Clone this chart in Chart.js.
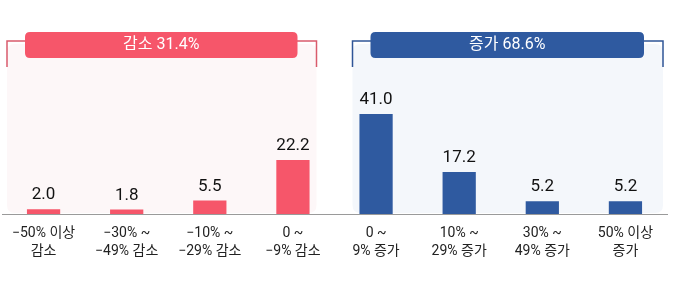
<!DOCTYPE html>
<html lang="ko">
<head>
<meta charset="utf-8">
<script src="https://cdn.jsdelivr.net/npm/chart.js@4"></script>
<style>
  html, body { margin: 0; padding: 0; background: #fff; }
  #wrap { width: 700px; height: 301px; position: relative; }
</style>
</head>
<body>
<div id="wrap"><canvas id="chart"></canvas></div>
<script>
// Data

const categories = [
    ["−50% 이상", "감소"],
    ["−30% ~", "−49% 감소"],
    ["−10% ~", "−29% 감소"],
    ["0 ~", "−9% 감소"],
    ["0 ~", "9% 증가"],
    ["10% ~", "29% 증가"],
    ["30% ~", "49% 증가"],
    ["50% 이상", "증가"]
];
const values = [2.0, 1.8, 5.5, 22.2, 41.0, 17.2, 5.2, 5.2];
const groupLabels = ["감소 31.4%", "증가 68.6%"];

const RED = '#f6566a';
const BLUE = '#2f5aa0';
const FONT = "Roboto, 'Noto Sans CJK KR', 'Noto Sans', sans-serif";

const barColors = values.map((v, i) => i < 4 ? RED : BLUE);

// Background panels, brackets and group pills

function roundRect(ctx, x, y, w, h, r) {
    ctx.beginPath();
    ctx.moveTo(x + r, y);
    ctx.lineTo(x + w - r, y);
    ctx.quadraticCurveTo(x + w, y, x + w, y + r);
    ctx.lineTo(x + w, y + h - r);
    ctx.quadraticCurveTo(x + w, y + h, x + w - r, y + h);
    ctx.lineTo(x + r, y + h);
    ctx.quadraticCurveTo(x, y + h, x, y + h - r);
    ctx.lineTo(x, y + r);
    ctx.quadraticCurveTo(x, y, x + r, y);
    ctx.closePath();
}

const groupPlugin = {
    id: 'groups',
    beforeDatasetsDraw(chart) {
        const ctx = chart.ctx;
        const x = chart.scales.x;
        const area = chart.chartArea;
        const mid = (x.getPixelForValue(3) + x.getPixelForValue(4)) / 2;
        const groups = [
            { l: area.left + 5, r: mid - 18, line: '#d95b6c', fill: '#fdf7f8', pill: RED, text: groupLabels[0] },
            { l: mid + 18, r: area.right - 4, line: '#2f5597', fill: '#f4f7fb', pill: BLUE, text: groupLabels[1] }
        ];
        ctx.save();
        groups.forEach(g => {
            // panel
            ctx.fillStyle = g.fill;
            roundRect(ctx, g.l, 44, g.r - g.l, area.bottom - 44 - 1, 8);
            ctx.fill();
            // bracket
            ctx.strokeStyle = g.line;
            ctx.lineWidth = 1.5;
            ctx.beginPath();
            ctx.moveTo(g.l, 67);
            ctx.lineTo(g.l, 41);
            ctx.lineTo(g.r, 41);
            ctx.lineTo(g.r, 67);
            ctx.stroke();
            // pill
            ctx.fillStyle = g.pill;
            roundRect(ctx, g.l + 18, 32, g.r - g.l - 37, 26, 5);
            ctx.fill();
            ctx.fillStyle = '#fff';
            ctx.font = '16px ' + FONT;
            ctx.textAlign = 'center';
            ctx.textBaseline = 'middle';
            ctx.fillText(g.text, g.l + 18 + (g.r - g.l - 37) / 2, 45);
        });
        ctx.restore();
    },
    afterDatasetsDraw(chart) {
        const ctx = chart.ctx;
        const meta = chart.getDatasetMeta(0);
        ctx.save();
        ctx.fillStyle = '#111';
        ctx.font = '17px ' + FONT;
        ctx.textAlign = 'center';
        ctx.textBaseline = 'alphabetic';
        meta.data.forEach((bar, i) => {
            ctx.fillText(values[i].toFixed(1), bar.x, bar.y - 10);
        });
        ctx.restore();
    }
};

// Chart

const chartCanvas = document.getElementById("chart");

let barChart = new Chart(chartCanvas, {
    type: 'bar',
    data: {
        labels: categories,
        datasets: [{
            data: values,
            backgroundColor: barColors,
            borderWidth: 0,
            barPercentage: 0.4,
            categoryPercentage: 1.0
        }]
    },
    options: {
        responsive: true,
        maintainAspectRatio: false,
        animation: { duration: 0 },
        layout: {
            padding: { left: 2, right: 33, top: 19, bottom: 0 }
        },
        scales: {
            x: {
                grid: { display: false, drawTicks: false },
                border: { display: true, color: '#9a9a9a', width: 1 },
                ticks: {
                    color: '#222',
                    padding: 10,
                    maxRotation: 0,
                    autoSkip: false,
                    font: { family: FONT, size: 14, lineHeight: 1.3 }
                },
                afterFit: s => { s.height = 87; }
            },
            y: {
                display: false,
                min: 0,
                max: 80
            }
        },
        plugins: {
            legend: { display: false },
            tooltip: { enabled: false }
        }
    },
    plugins: [groupPlugin]
});
</script>
</body>
</html>
